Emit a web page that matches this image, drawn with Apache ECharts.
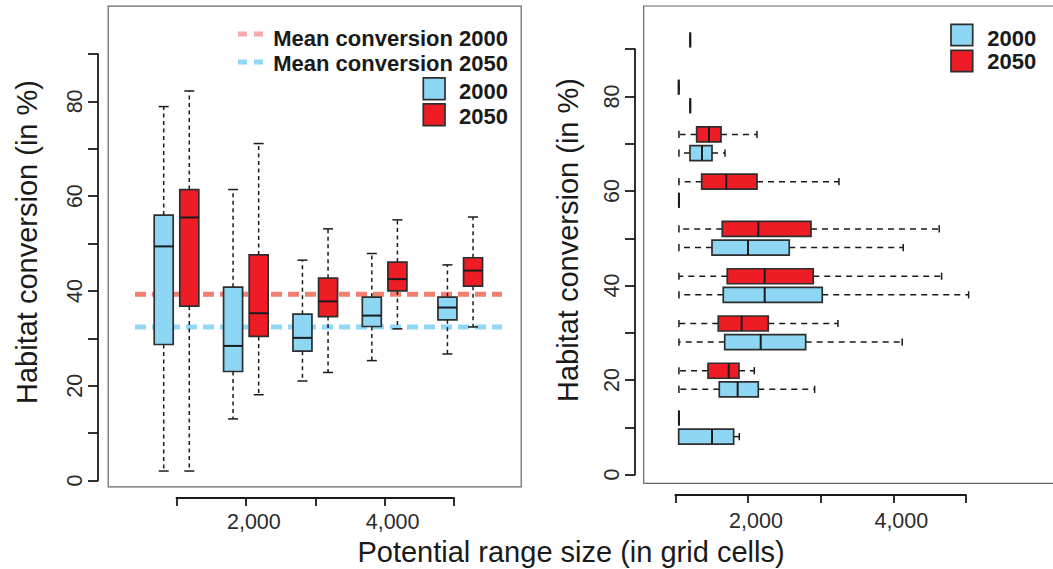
<!DOCTYPE html>
<html>
<head>
<meta charset="utf-8">
<script src="https://cdn.jsdelivr.net/npm/echarts@6/dist/echarts.min.js"></script>
<style>
  html, body { margin: 0; padding: 0; background: #ffffff; }
  #chart { width: 1053px; height: 569px; }
</style>
</head>
<body>
<div id="chart"></div>
<script>
// ---------------- DATA ----------------
// Left panel: range-size classes (x) and box statistics [lower whisker, Q1, median, Q3, upper whisker]
const leftGroups = [1000, 2000, 3000, 4000, 5090];
const left2000 = [
  [2.0, 28.7, 49.4, 56.0, 78.9],
  [13.0, 23.0, 28.4, 40.8, 61.4],
  [21.0, 27.3, 30.1, 35.1, 46.5],
  [25.3, 32.5, 34.8, 38.7, 47.9],
  [26.7, 33.9, 36.5, 38.7, 45.5]
];
const left2050 = [
  [2.0, 36.8, 55.5, 61.4, 82.2],
  [18.1, 30.4, 35.3, 47.6, 71.1],
  [22.8, 34.6, 37.8, 42.7, 53.1],
  [32.0, 40.0, 42.5, 46.1, 55.0],
  [32.4, 41.0, 44.3, 47.0, 55.6]
];
const meanConversion2000 = 39.3;
const meanConversion2050 = 32.4;

// Right panel: habitat-conversion classes (y) and range-size box statistics
const rightGroups = [10, 20, 30, 40, 50, 60, 70, 80, 90];
const right2000 = [
  [1047, 1047, 1505, 1803, 1880],
  [1050, 1605, 1858, 2142, 2917],
  [1050, 1680, 2175, 2794, 4122],
  [1050, 1660, 2230, 3022, 5036],
  [1050, 1505, 2000, 2568, 4136],
  [1050, 1050, 1050, 1050, 1050],
  [1050, 1202, 1367, 1505, 1684],
  [1206, 1206, 1206, 1206, 1206],
  null
];
const right2050 = [
  [1050, 1050, 1050, 1050, 1050],
  [1050, 1450, 1735, 1876, 2087],
  [1050, 1591, 1913, 2279, 3238],
  [1050, 1715, 2230, 2898, 4664],
  [1050, 1646, 2142, 2867, 4631],
  [1050, 1363, 1701, 2124, 3252],
  [1050, 1294, 1464, 1629, 2124],
  [1047, 1047, 1047, 1047, 1047],
  [1206, 1206, 1206, 1206, 1206]
];

// Tick labels
const yLabelValues = [0, 20, 40, 60, 80];
const xTickLabels = { 2000: '2,000', 4000: '4,000' };

// ---------------- STYLE ----------------
const FONT = '"Liberation Sans", Arial, Helvetica, sans-serif';
const BLUE = '#8DD7F5';
const RED = '#EE1C25';
const EDGE = '#2e2e2e';
const INK = '#1a1a1a';

const chart = echarts.init(document.getElementById('chart'), null, { renderer: 'svg' });

function vBox(sign, fill) {
  return function (params, api) {
    const gx = api.value(0);
    const pts = [1, 2, 3, 4, 5].map(d => api.coord([gx, api.value(d)]));
    const cx = pts[0][0] + sign * 12.8;
    const yLw = pts[0][1], yQ1 = pts[1][1], yMed = pts[2][1], yQ3 = pts[3][1], yUw = pts[4][1];
    const hw = 9.5, cap = 5;
    const dash = { stroke: INK, lineWidth: 1.5, lineDash: [4, 3.5] };
    const solid = { stroke: INK, lineWidth: 1.5 };
    return {
      type: 'group',
      children: [
        { type: 'line', shape: { x1: cx, y1: yQ3, x2: cx, y2: yUw }, style: dash },
        { type: 'line', shape: { x1: cx, y1: yQ1, x2: cx, y2: yLw }, style: dash },
        { type: 'line', shape: { x1: cx - cap, y1: yUw, x2: cx + cap, y2: yUw }, style: solid },
        { type: 'line', shape: { x1: cx - cap, y1: yLw, x2: cx + cap, y2: yLw }, style: solid },
        { type: 'rect', shape: { x: cx - hw, y: yQ3, width: 2 * hw, height: yQ1 - yQ3 },
          style: { fill: fill, stroke: EDGE, lineWidth: 1.7 } },
        { type: 'line', shape: { x1: cx - hw, y1: yMed, x2: cx + hw, y2: yMed },
          style: { stroke: INK, lineWidth: 2 } }
      ]
    };
  };
}

function hBox(sign, fill) {
  return function (params, api) {
    const gy = api.value(0);
    const pts = [1, 2, 3, 4, 5].map(d => api.coord([api.value(d), gy]));
    const cy = pts[0][1] - sign * 9.3;
    const xLw = pts[0][0], xQ1 = pts[1][0], xMed = pts[2][0], xQ3 = pts[3][0], xUw = pts[4][0];
    const hh = 7.5, cap = 3.6;
    const dash = { stroke: INK, lineWidth: 1.5, lineDash: [6, 5] };
    const solid = { stroke: INK, lineWidth: 1.5 };
    return {
      type: 'group',
      children: [
        { type: 'line', shape: { x1: xQ3, y1: cy, x2: xUw, y2: cy }, style: dash },
        { type: 'line', shape: { x1: xQ1, y1: cy, x2: xLw, y2: cy }, style: dash },
        { type: 'line', shape: { x1: xUw, y1: cy - cap, x2: xUw, y2: cy + cap }, style: solid },
        { type: 'line', shape: { x1: xLw, y1: cy - cap, x2: xLw, y2: cy + cap }, style: solid },
        { type: 'rect', shape: { x: xQ1, y: cy - hh, width: xQ3 - xQ1, height: 2 * hh },
          style: { fill: fill, stroke: EDGE, lineWidth: 1.7 } },
        { type: 'line', shape: { x1: xMed, y1: cy - hh, x2: xMed, y2: cy + hh },
          style: { stroke: INK, lineWidth: 2 } }
      ]
    };
  };
}

function meanLine(color) {
  return function (params, api) {
    const y = api.coord([1000, api.value(0)])[1];
    const cs = params.coordSys;
    return {
      type: 'line',
      shape: { x1: cs.x - 41.5, y1: y, x2: cs.x + cs.width + 48, y2: y },
      style: { stroke: color, lineWidth: 5, lineDash: [11, 6] }
    };
  };
}

const axisLineStyle = { color: INK, width: 1.8 };
const tickLabelStyle = { color: '#2b2b2b', fontSize: 21.5, fontFamily: FONT };

function xAxisCfg(gridIndex, offset, margin) {
  return {
    type: 'value', gridIndex: gridIndex, min: 1000, max: 5000, interval: 1000,
    position: 'bottom', offset: offset,
    axisLine: { show: true, onZero: false, lineStyle: axisLineStyle },
    axisTick: { show: true, length: 8, lineStyle: axisLineStyle },
    splitLine: { show: false },
    axisLabel: Object.assign({
      margin: margin, padding: [0, 0, 0, 16],
      formatter: v => xTickLabels[v] || ''
    }, tickLabelStyle)
  };
}
function yAxisCfg(gridIndex, offset) {
  return {
    type: 'value', gridIndex: gridIndex, min: 0, max: 90, interval: 10,
    position: 'left', offset: offset,
    axisLine: { show: true, onZero: false, lineStyle: axisLineStyle },
    axisTick: { show: true, length: 10, lineStyle: axisLineStyle },
    splitLine: { show: false },
    axisLabel: Object.assign({
      margin: 12, rotate: 90,
      formatter: v => yLabelValues.indexOf(v) >= 0 ? String(v) : ''
    }, tickLabelStyle)
  };
}

const leftBlueData = leftGroups.map((g, i) => [g].concat(left2000[i]));
const leftRedData = leftGroups.map((g, i) => [g].concat(left2050[i]));
const rightBlueData = rightGroups.map((g, i) => right2000[i] ? [g].concat(right2000[i]) : null).filter(Boolean);
const rightRedData = rightGroups.map((g, i) => right2050[i] ? [g].concat(right2050[i]) : null).filter(Boolean);

const titleStyle = { fill: INK, fontSize: 29, fontFamily: FONT, align: 'center', verticalAlign: 'middle' };
const legendText = { fill: INK, fontSize: 22, fontWeight: 'bold', fontFamily: FONT, verticalAlign: 'middle' };

const option = {
  animation: false,
  backgroundColor: '#ffffff',
  grid: [
    { left: 176.5, right: 599, top: 54, bottom: 88.5 },
    { left: 675.3, right: 87, top: 49.2, bottom: 94.4 }
  ],
  xAxis: [xAxisCfg(0, 17.5, 13), xAxisCfg(1, 20.4, 15)],
  yAxis: [yAxisCfg(0, 78.5), yAxisCfg(1, 40.3)],
  series: [
    { type: 'custom', name: 'Mean conversion 2000', xAxisIndex: 0, yAxisIndex: 0, z: 1, clip: false,
      renderItem: meanLine('#F27F72'), data: [[meanConversion2000]], encode: { y: 0 } },
    { type: 'custom', name: 'Mean conversion 2050', xAxisIndex: 0, yAxisIndex: 0, z: 1, clip: false,
      renderItem: meanLine('#90D8F6'), data: [[meanConversion2050]], encode: { y: 0 } },
    { type: 'custom', name: '2000', xAxisIndex: 0, yAxisIndex: 0, z: 3, clip: false,
      renderItem: vBox(-1, BLUE), data: leftBlueData, encode: { x: 0, y: [1, 2, 3, 4, 5] } },
    { type: 'custom', name: '2050', xAxisIndex: 0, yAxisIndex: 0, z: 3, clip: false,
      renderItem: vBox(1, RED), data: leftRedData, encode: { x: 0, y: [1, 2, 3, 4, 5] } },
    { type: 'custom', name: '2000 ', xAxisIndex: 1, yAxisIndex: 1, z: 3, clip: false,
      renderItem: hBox(-1, BLUE), data: rightBlueData, encode: { y: 0, x: [1, 2, 3, 4, 5] } },
    { type: 'custom', name: '2050 ', xAxisIndex: 1, yAxisIndex: 1, z: 3, clip: false,
      renderItem: hBox(1, RED), data: rightRedData, encode: { y: 0, x: [1, 2, 3, 4, 5] } }
  ],
  graphic: [
    // panel frames
    { type: 'rect', z: 0, silent: true, shape: { x: 108.2, y: 6.1, width: 413, height: 480.8 },
      style: { fill: 'none', stroke: '#666', lineWidth: 1.2 } },
    { type: 'rect', z: 0, silent: true, shape: { x: 643.7, y: 6, width: 430, height: 477.3 },
      style: { fill: 'none', stroke: '#666', lineWidth: 1.2 } },
    // axis titles
    { type: 'text', x: 27, y: 242, rotation: Math.PI / 2,
      style: Object.assign({ text: 'Habitat conversion (in %)' }, titleStyle) },
    { type: 'text', x: 568, y: 240, rotation: Math.PI / 2,
      style: Object.assign({ text: 'Habitat conversion (in %)' }, titleStyle) },
    { type: 'text', x: 571, y: 552,
      style: Object.assign({ text: 'Potential range size (in grid cells)' }, titleStyle) },
    // left legend
    { type: 'line', shape: { x1: 238, y1: 34, x2: 264, y2: 34 },
      style: { stroke: '#F5A9A9', lineWidth: 5, lineDash: [9, 7] } },
    { type: 'line', shape: { x1: 238, y1: 62, x2: 264, y2: 62 },
      style: { stroke: '#90D8F6', lineWidth: 5, lineDash: [9, 7] } },
    { type: 'text', x: 508, y: 38, style: Object.assign({ text: 'Mean conversion 2000', align: 'right' }, legendText) },
    { type: 'text', x: 508, y: 63, style: Object.assign({ text: 'Mean conversion 2050', align: 'right' }, legendText) },
    { type: 'rect', shape: { x: 423.3, y: 77.8, width: 21.7, height: 21.9 }, style: { fill: BLUE, stroke: EDGE, lineWidth: 1.7 } },
    { type: 'rect', shape: { x: 423.3, y: 103.8, width: 21.7, height: 21.9 }, style: { fill: RED, stroke: EDGE, lineWidth: 1.7 } },
    { type: 'text', x: 508, y: 91.5, style: Object.assign({ text: '2000', align: 'right' }, legendText) },
    { type: 'text', x: 508, y: 116.5, style: Object.assign({ text: '2050', align: 'right' }, legendText) },
    // right legend
    { type: 'rect', shape: { x: 951, y: 24.3, width: 21.7, height: 21.4 }, style: { fill: BLUE, stroke: EDGE, lineWidth: 1.7 } },
    { type: 'rect', shape: { x: 951, y: 50.3, width: 21.7, height: 21.4 }, style: { fill: RED, stroke: EDGE, lineWidth: 1.7 } },
    { type: 'text', x: 987.3, y: 38, style: Object.assign({ text: '2000', align: 'left' }, legendText) },
    { type: 'text', x: 987.3, y: 61.5, style: Object.assign({ text: '2050', align: 'left' }, legendText) }
  ]
};
chart.setOption(option);
</script>
</body>
</html>
